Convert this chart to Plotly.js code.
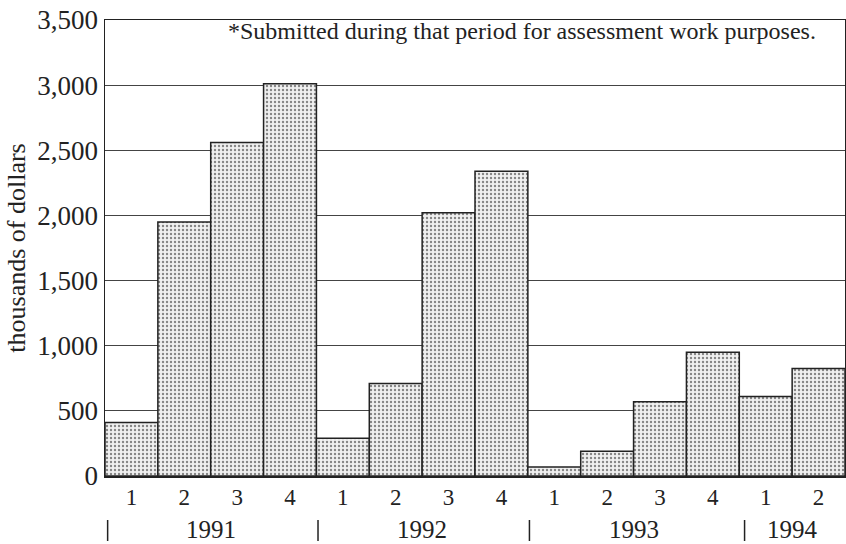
<!DOCTYPE html>
<html>
<head>
<meta charset="utf-8">
<script src="https://cdn.plot.ly/plotly-3.0.1.min.js"></script>
<style>html,body{margin:0;padding:0;background:#fff;}#chart{width:846px;height:544px;}</style>
</head>
<body>
<div id="chart"></div>
<script>
// Data (thousands of dollars, by quarter)
const quarterLabels = ["1","2","3","4","1","2","3","4","1","2","3","4","1","2"];
const amounts = [410, 1950, 2560, 3010, 290, 710, 2020, 2340, 70, 190, 570, 950, 610, 825];
const years = ["1991", "1992", "1993", "1994"];
const yearCenters = [1.5, 5.5, 9.5, 12.5];
const yearSeparators = [-0.45, 3.53, 7.53, 11.6];
const noteText = "*Submitted during that period for assessment work purposes.";

const positions = amounts.map((_, i) => i);
const serif = "Liberation Serif, Times New Roman, serif";
const ink = "#222";

const trace = {
  type: "bar",
  x: positions,
  y: amounts,
  width: 1,
  marker: {
    color: "#eaeaea",
    line: {color: ink, width: 1.5},
    pattern: {shape: ".", fgcolor: "#858585", bgcolor: "#f0f0f0", size: 4, solidity: 0.27}
  },
  hoverinfo: "skip"
};

const annotations = [];
years.forEach((yr, i) => annotations.push({
  x: yearCenters[i], xref: "x", y: -0.118, yref: "paper", yanchor: "middle", xanchor: "center",
  text: yr, showarrow: false, font: {family: serif, size: 25, color: ink}
}));
annotations.push({
  x: 0.564, xref: "paper", y: 0.976, yref: "paper", yanchor: "middle", xanchor: "center",
  text: noteText, showarrow: false, font: {family: serif, size: 24, color: ink}
});

const shapes = yearSeparators.map(s => ({
  type: "line", xref: "x", yref: "paper", x0: s, x1: s, y0: -0.0965, y1: -0.1425,
  line: {color: ink, width: 1.5}
}));

const layout = {
  width: 846, height: 544,
  margin: {l: 105, r: 1, t: 20, b: 68},
  paper_bgcolor: "#ffffff",
  plot_bgcolor: "#ffffff",
  showlegend: false,
  bargap: 0,
  xaxis: {
    range: [-0.5, 13.5],
    tickmode: "array", tickvals: positions, ticktext: quarterLabels,
    ticks: "", showgrid: false, zeroline: false,
    showline: true, mirror: true, linecolor: ink, linewidth: 1.5,
    tickfont: {family: serif, size: 23, color: ink}
  },
  yaxis: {
    range: [0, 3500], dtick: 500, tick0: 0, tickformat: ",",
    ticks: "", showgrid: true, gridcolor: "#444", gridwidth: 1.2,
    zeroline: false, showline: true, mirror: true, linecolor: ink, linewidth: 1.5,
    tickfont: {family: serif, size: 27, color: ink},
    title: {text: "thousands of dollars", font: {family: serif, size: 26, color: ink}, standoff: 4}
  },
  annotations: annotations,
  shapes: shapes
};

Plotly.newPlot("chart", [trace], layout, {displayModeBar: false, staticPlot: true});
</script>
</body>
</html>
